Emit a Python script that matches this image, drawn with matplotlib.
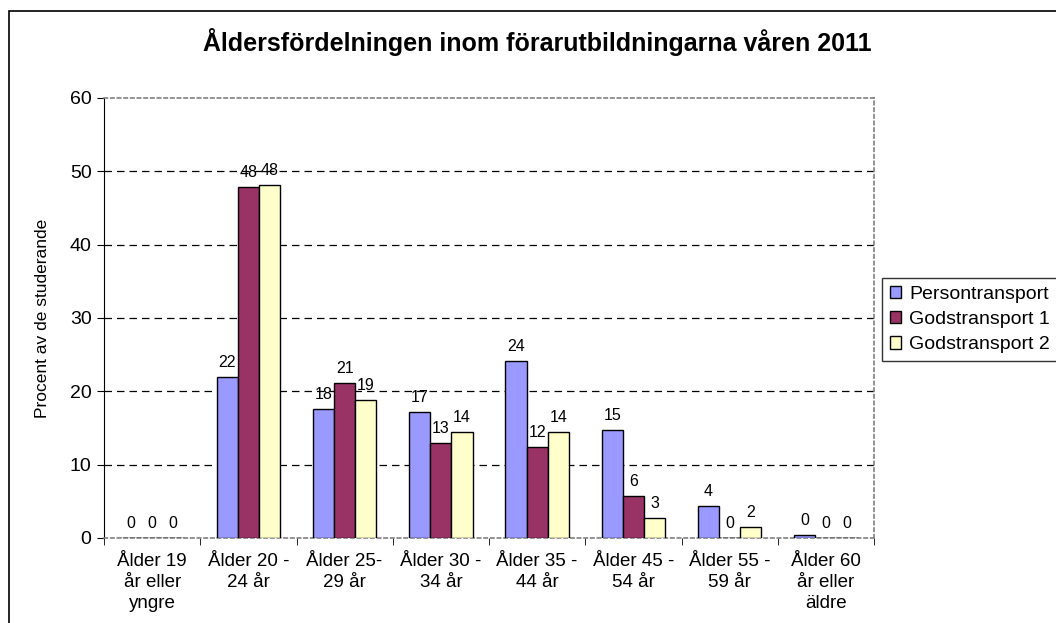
import numpy as np
import matplotlib.pyplot as plt
from matplotlib.patches import Rectangle

plt.rcParams['font.family'] = ['Liberation Sans', 'DejaVu Sans']

categories = ["Ålder 19\når eller\nyngre", "Ålder 20 -\n24 år", "Ålder 25-\n29 år",
              "Ålder 30 -\n34 år", "Ålder 35 -\n44 år", "Ålder 45 -\n54 år",
              "Ålder 55 -\n59 år", "Ålder 60\når eller\näldre"]
persontransport = [0, 22.0, 17.6, 17.2, 24.2, 14.7, 4.4, 0.37]
godstransport1 = [0, 47.9, 21.2, 13.0, 12.45, 5.7, 0, 0]
godstransport2 = [0, 48.1, 18.8, 14.5, 14.4, 2.7, 1.55, 0]

series = [("Persontransport", persontransport, "#9999FF"),
          ("Godstransport 1", godstransport1, "#993366"),
          ("Godstransport 2", godstransport2, "#FFFFCC")]


def main():
    fig = plt.figure(figsize=(10.56, 6.23), dpi=100)
    ax = fig.add_axes([104 / 1056, 1 - 538 / 623, 770 / 1056, 440 / 623])

    # ram runt hela figuren (höger/nederkant utanför bilden)
    fig.patches.append(Rectangle((9 / 1056, -0.05), 1.1, 1 - 11 / 623 + 0.05,
                                 transform=fig.transFigure, fill=False,
                                 edgecolor="black", linewidth=1.2))

    x = np.arange(len(categories))
    w = 0.22
    for i, (name, vals, col) in enumerate(series):
        pos = x + (i - 1) * w
        ax.bar(pos, vals, width=w, color=col, edgecolor="black",
               linewidth=1.0, label=name, zorder=3)
        for px, v in zip(pos, vals):
            ax.annotate(f"{v:.0f}", (px, v), xytext=(0, 5),
                        textcoords="offset points", ha="center",
                        va="bottom", fontsize=11.5, zorder=4)

    ax.set_xlim(-0.5, len(categories) - 0.5)
    ax.set_ylim(0, 60)
    ax.set_yticks(range(0, 61, 10))
    ax.tick_params(axis="y", labelsize=14, length=5, direction="out", pad=4)
    ax.set_xticks(x)
    ax.set_xticklabels(categories, fontsize=13.5, linespacing=1.3)
    ax.tick_params(axis="x", which="major", length=0, pad=11)
    ax.set_xticks(np.arange(-0.5, len(categories), 1), minor=True)
    ax.tick_params(axis="x", which="minor", length=5, direction="out")

    for y in range(10, 60, 10):
        ax.axhline(y, color="black", linestyle=(0, (6, 4)), linewidth=0.9, zorder=1)

    for s in ["top", "right", "bottom"]:
        ax.spines[s].set_linestyle((0, (2, 2)))
        ax.spines[s].set_color("#808080")
        ax.spines[s].set_linewidth(1.2)
    ax.spines["left"].set_color("black")

    ax.set_ylabel("Procent av de studerande", fontsize=12.5, labelpad=14)
    fig.text(537 / 1056, 1 - 42 / 623, "Åldersfördelningen inom förarutbildningarna våren 2011",
             ha="center", va="center", fontsize=18, fontweight="bold")

    leg = ax.legend(loc="upper left", bbox_to_anchor=(882 / 1056, 1 - 278 / 623),
                    bbox_transform=fig.transFigure, fontsize=14, frameon=True,
                    fancybox=False, edgecolor="black", handlelength=0.6,
                    handleheight=0.6, handletextpad=0.4, borderpad=0.4,
                    labelspacing=0.42, borderaxespad=0)
    leg.get_frame().set_linewidth(1.0)

    fig.savefig("out.png", dpi=100)


if __name__ == "__main__":
    main()
